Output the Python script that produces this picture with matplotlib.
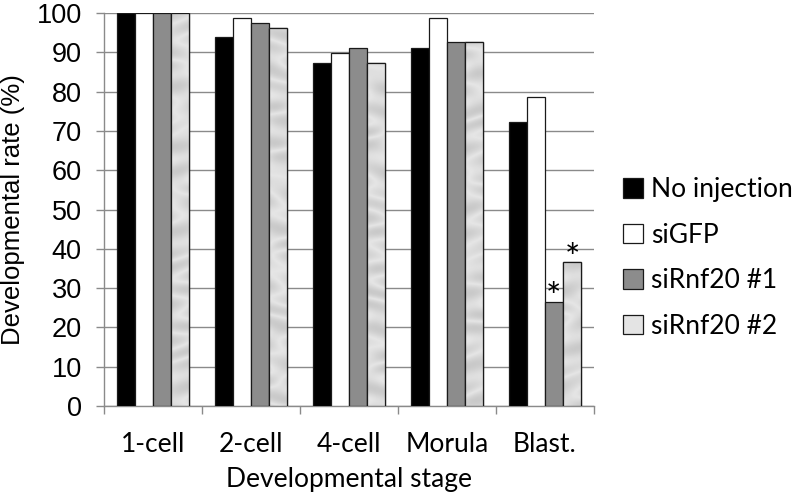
import numpy as np
import matplotlib
matplotlib.use("Agg")
import matplotlib.pyplot as plt
from matplotlib.patches import Patch

plt.rcParams['font.family'] = ['Lato', 'DejaVu Sans']

# data
stages = ["1-cell", "2-cell", "4-cell", "Morula", "Blast."]
no_injection = [100, 93.8, 87.4, 91.2, 72.2]
si_gfp = [100, 98.7, 89.8, 98.7, 78.5]
si_rnf20_1 = [100, 97.4, 91.1, 92.5, 26.5]
si_rnf20_2 = [100, 96.2, 87.4, 92.5, 36.6]
series_names = ["No injection", "siGFP", "siRnf20 #1", "siRnf20 #2"]
starred = [(2, 4), (3, 4)]  # (series, stage) with a * above

series = [no_injection, si_gfp, si_rnf20_1, si_rnf20_2]
colors = ["#000000", "#ffffff", "#8c8c8c", "#e4e4e4"]

fig = plt.figure(figsize=(7.93, 5.0), dpi=100)
ax = fig.add_axes([0.131, 0.188, 0.618, 0.786])

x = np.arange(len(stages))
w = 0.184
groups = []
for i, vals in enumerate(series):
    b = ax.bar(x + (i - 1.5) * w, vals, w, color=colors[i], edgecolor="#1a1a1a",
               linewidth=0.9, zorder=3)
    groups.append(b)

# marble-ish texture on the last series, clipped to each bar
gx, gy = np.meshgrid(np.linspace(0, 30, 300), np.linspace(0, 60, 600))
swirl = np.sin(gx * 1.3 + 2.5 * np.sin(gy * 0.35) + np.cos(gx * 0.4 + gy * 0.9))
swirl += 0.6 * np.sin(gy * 1.7 + 1.8 * np.cos(gx * 0.8))
tex = 0.9 - 0.07 * np.abs(swirl)
for patch in groups[3]:
    im = ax.imshow(tex, cmap="gray", vmin=0, vmax=1, aspect="auto",
                   extent=(-0.5, len(stages) - 0.5, 0, 100), zorder=3.5,
                   interpolation="bilinear")
    im.set_clip_path(patch)
for patch in groups[3]:
    ax.add_patch(plt.Rectangle(patch.get_xy(), patch.get_width(), patch.get_height(),
                               fill=False, edgecolor="#1a1a1a", linewidth=0.9, zorder=3.6))

for s, k in starred:
    ax.annotate("*", (x[k] + (s - 1.5) * w, series[s][k]), xytext=(0, -5.5),
                textcoords="offset points", ha="center", va="baseline",
                fontsize=26, zorder=4)

ax.set_ylim(0, 100)
ax.set_xlim(-0.5, len(stages) - 0.5)
ax.set_yticks(np.arange(0, 101, 10))
ax.yaxis.grid(True, color="#8a8a8a", linewidth=1.0, zorder=0)
ax.set_axisbelow(True)

ax.set_xticks(x)
ax.set_xticklabels(stages, fontsize=19)
ax.set_xticks(np.arange(-0.5, len(stages)), minor=True)
ax.tick_params(axis="x", which="major", length=0, pad=19)
ax.tick_params(axis="x", which="minor", length=6, color="#8a8a8a", width=1.0)
ax.tick_params(axis="y", length=6, color="#8a8a8a", width=1.0, pad=10)
for lab in ax.get_yticklabels():
    lab.set_family("Liberation Sans")
    lab.set_fontsize(19.5)

for side in ["top", "right"]:
    ax.spines[side].set_visible(False)
for side in ["left", "bottom"]:
    ax.spines[side].set_color("#8a8a8a")
    ax.spines[side].set_linewidth(1.0)

ax.set_ylabel("Developmental rate (%)", fontsize=18.5, family="Liberation Sans")
ax.yaxis.set_label_coords(-0.16, 0.5)
ax.set_xlabel("Developmental stage", fontsize=19, labelpad=7)

handles = [Patch(facecolor=colors[i], edgecolor="#1a1a1a", linewidth=0.9)
           for i in range(4)]
fig.legend(handles, series_names, loc="center left", bbox_to_anchor=(0.786, 0.484),
           frameon=False, fontsize=19, handlelength=0.75, handleheight=0.75,
           handletextpad=0.3, labelspacing=0.78, borderaxespad=0, borderpad=0)

fig.savefig("out.png", dpi=100)
